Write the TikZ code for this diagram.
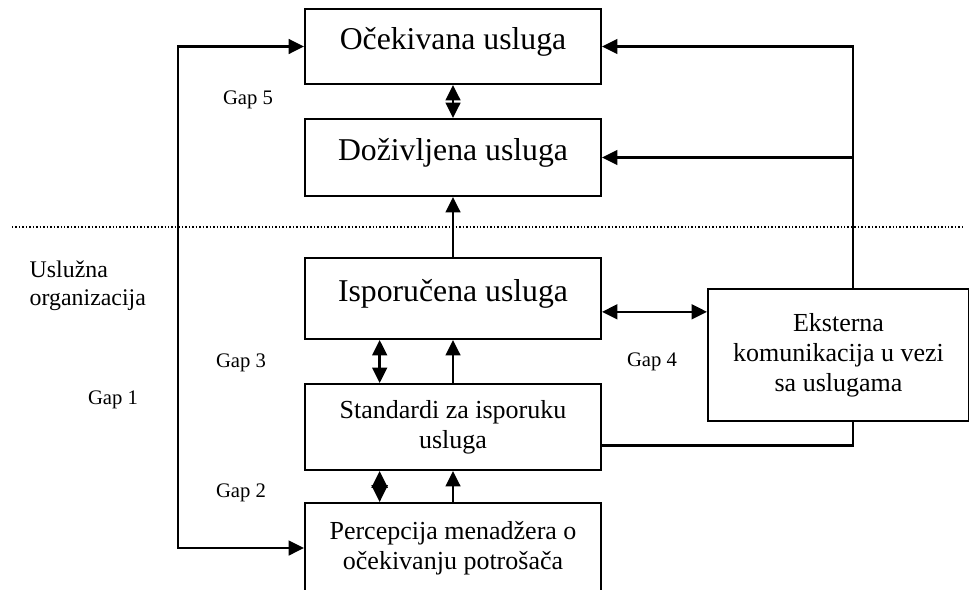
\documentclass[tikz,border=0pt]{standalone}
\usepackage{fontspec}
\setmainfont{Liberation Serif}
\usetikzlibrary{arrows.meta}

\begin{document}
\begin{tikzpicture}
  [x=0.75pt,y=-0.75pt,
     box/.style={draw,
                 line width=1.5pt,
                 shape=rectangle,
                 anchor=north west,
                 align=center,
                 inner sep=0pt,
                 minimum width=222pt},
     bigbox/.style={box,
                 text depth=12pt,
                 font=\fontsize{23.8}{27}\selectfont},
     smallbox/.style={box,
                 font=\fontsize{19.5}{22.5}\selectfont},
     gaplbl/.style={font=\fontsize{15.5}{18}\selectfont},
     conn/.style={line width=1.8pt,
                 -{Triangle[length=11.5pt,width=11pt]}},
     dconn/.style={line width=1.8pt,
                 {Triangle[length=11.5pt,width=11pt]}-{Triangle[length=11.5pt,width=11pt]}},
     diam/.style={line width=1.8pt,
                 {Triangle[length=12.6pt,width=12pt]}-{Triangle[length=12.6pt,width=12pt]}},
     plain/.style={line width=1.8pt}
  ]
    \useasboundingbox (0,0) rectangle (969,589);
    \clip (0,0) rectangle (969,589);

    % boxes
    \node[bigbox,minimum height=56.25pt] (ocek) at (304,8) {Očekivana usluga};
    \node[bigbox,minimum height=57.75pt] (dozi) at (304,118) {Doživljena usluga};
    \node[bigbox,minimum height=60.75pt] (ispo) at (304,257) {Isporučena usluga};
    \node[smallbox,minimum height=64.5pt] (stand) at (304,383) {Standardi za isporuku\\usluga};
    \node[smallbox,minimum height=67.5pt] (perc) at (304,502) {Percepcija menadžera o\\očekivanju potrošača};
    \node[smallbox,minimum width=195.75pt,minimum height=99pt] (ekst) at (707,288)
        {Eksterna\\komunikacija u vezi\\sa uslugama};

    % labels
    \node[gaplbl] (gap5) at (248,100) {Gap 5};
    \node[gaplbl] (gap3) at (241,363) {Gap 3};
    \node[gaplbl] (gap4) at (652,362) {Gap 4};
    \node[gaplbl] (gap1) at (113,400) {Gap 1};
    \node[gaplbl] (gap2) at (241,493) {Gap 2};
    \node[anchor=west,align=left,font=\fontsize{17.9}{21}\selectfont] (org) at (25,286)
        {Uslužna\\organizacija};

    % boundary of the organisation
    \coordinate (sepl) at (12,227);
    \coordinate (sepr) at (962,227);
    \draw[line width=1.2pt,dash pattern=on 1.1pt off 1.5pt] (sepl) -- (sepr);

    % vertical links
    \draw[dconn] (ocek.south) -- (dozi.north);
    \draw[conn] (ispo.north) -- (dozi.south);
    \draw[conn] (stand.north) -- (ispo.south);
    \draw[conn] (perc.north) -- (stand.south);
    \draw[dconn] ([xshift=-55pt]ispo.south) -- ([xshift=-55pt]stand.north);
    \draw[diam] ([xshift=-55pt]stand.south) -- ([xshift=-55pt]perc.north);

    % gap 1 loop
    \coordinate (lft) at (178,300);
    \draw[dconn] (ocek.west) -| (lft) |- (perc.west);

    % external communication
    \coordinate (rgt) at (853,45);
    \draw[conn] (ekst.north -| rgt) |- (ocek.east);
    \draw[conn] (dozi.east -| rgt) -- (dozi.east);
    \draw[dconn] ([yshift=-10pt]ispo.east) -- ([yshift=-10pt]ispo.east -| ekst.west);
    \draw[plain] ([yshift=-14pt]stand.east) -| (ekst.south -| rgt);

\end{tikzpicture}
\end{document}
